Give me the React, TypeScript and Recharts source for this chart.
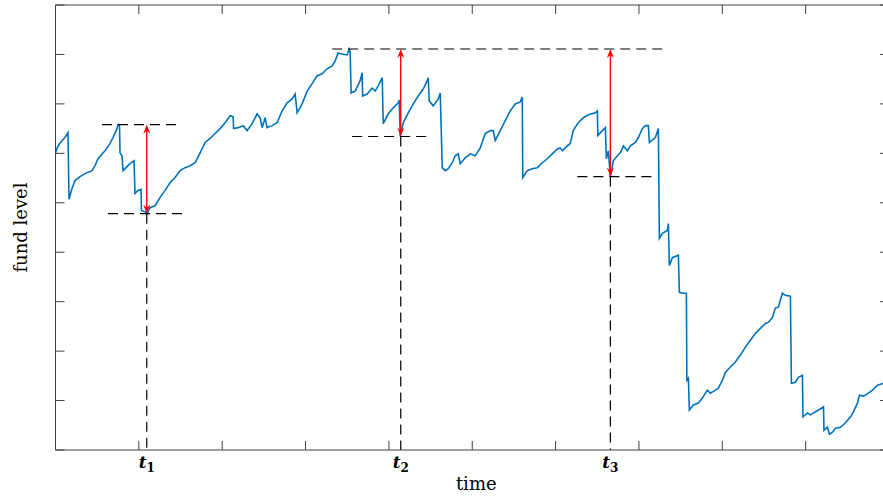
import React from 'react';
import { LineChart, Line, XAxis, YAxis, ReferenceLine } from 'recharts';

// fund level (time 0..10, level 0..9)
const time = [
  0.000, 0.030, 0.078, 0.114, 0.150, 0.162, 0.198, 0.234, 0.294, 0.354,
  0.438, 0.474, 0.510, 0.594, 0.654, 0.690, 0.738, 0.750, 0.768, 0.774,
  0.798, 0.810, 0.846, 0.894, 0.942, 0.954, 0.990, 1.026, 1.032, 1.074,
  1.098, 1.134, 1.194, 1.255, 1.315, 1.375, 1.435, 1.495, 1.555, 1.615,
  1.675, 1.735, 1.795, 1.855, 1.915, 1.975, 2.035, 2.095, 2.131, 2.137,
  2.191, 2.251, 2.299, 2.359, 2.419, 2.455, 2.479, 2.515, 2.539, 2.599,
  2.659, 2.719, 2.779, 2.839, 2.875, 2.899, 2.959, 3.019, 3.079, 3.139,
  3.199, 3.259, 3.319, 3.355, 3.391, 3.439, 3.499, 3.523, 3.535, 3.547,
  3.595, 3.655, 3.679, 3.685, 3.739, 3.800, 3.836, 3.872, 3.920, 3.932,
  3.992, 4.052, 4.112, 4.124, 4.136, 4.172, 4.232, 4.292, 4.352, 4.412,
  4.460, 4.472, 4.484, 4.532, 4.592, 4.616, 4.640, 4.676, 4.712, 4.760,
  4.796, 4.832, 4.856, 4.916, 4.976, 5.036, 5.096, 5.156, 5.216, 5.252,
  5.276, 5.336, 5.396, 5.456, 5.516, 5.576, 5.600, 5.606, 5.660, 5.720,
  5.780, 5.840, 5.900, 5.960, 6.020, 6.056, 6.080, 6.140, 6.176, 6.212,
  6.272, 6.333, 6.393, 6.477, 6.501, 6.507, 6.561, 6.597, 6.609, 6.633,
  6.657, 6.693, 6.741, 6.777, 6.813, 6.861, 6.897, 6.957, 6.993, 7.041,
  7.077, 7.113, 7.125, 7.197, 7.233, 7.245, 7.281, 7.341, 7.353, 7.365,
  7.401, 7.473, 7.485, 7.533, 7.569, 7.575, 7.593, 7.605, 7.653, 7.713,
  7.761, 7.797, 7.821, 7.857, 7.917, 7.953, 8.001, 8.037, 8.097, 8.157,
  8.217, 8.277, 8.337, 8.397, 8.457, 8.517, 8.553, 8.601, 8.637, 8.673,
  8.697, 8.721, 8.757, 8.817, 8.829, 8.877, 8.913, 8.961, 8.968, 9.022,
  9.058, 9.094, 9.154, 9.214, 9.220, 9.262, 9.286, 9.322, 9.358, 9.418,
  9.478, 9.538, 9.574, 9.622, 9.646, 9.694, 9.754, 9.802, 9.862, 9.898,
  9.934, 9.994,
];

const level = [
  6.01, 6.15, 6.26, 6.32, 6.42, 5.07, 5.29, 5.45, 5.53, 5.59,
  5.65, 5.75, 5.89, 6.05, 6.20, 6.32, 6.50, 6.58, 6.58, 6.01,
  5.95, 5.65, 5.71, 5.79, 5.85, 5.19, 5.25, 5.27, 4.84, 4.82,
  4.78, 4.90, 4.94, 5.11, 5.25, 5.41, 5.51, 5.65, 5.71, 5.75,
  5.81, 6.01, 6.22, 6.30, 6.40, 6.50, 6.62, 6.76, 6.74, 6.50,
  6.52, 6.56, 6.46, 6.60, 6.80, 6.72, 6.52, 6.72, 6.52, 6.56,
  6.62, 6.86, 7.02, 7.10, 7.20, 6.82, 7.00, 7.26, 7.41, 7.57,
  7.61, 7.71, 7.77, 7.87, 8.03, 8.01, 7.99, 8.11, 8.05, 7.22,
  7.26, 7.47, 7.63, 7.16, 7.20, 7.32, 7.26, 7.37, 7.53, 6.60,
  6.80, 6.92, 7.02, 7.08, 6.34, 6.62, 6.82, 7.00, 7.16, 7.30,
  7.47, 7.53, 7.06, 6.96, 7.10, 7.22, 5.71, 5.65, 5.69, 5.81,
  5.95, 5.99, 5.79, 5.91, 5.99, 5.95, 6.11, 6.40, 6.46, 6.46,
  6.26, 6.46, 6.66, 6.86, 7.00, 7.04, 7.14, 5.51, 5.65, 5.69,
  5.71, 5.81, 5.89, 5.99, 6.09, 6.11, 6.05, 6.15, 6.20, 6.46,
  6.62, 6.72, 6.78, 6.82, 6.86, 6.36, 6.46, 6.52, 5.89, 6.05,
  5.53, 5.85, 5.95, 6.01, 6.15, 6.05, 6.15, 6.22, 6.32, 6.50,
  6.56, 6.56, 6.22, 6.32, 6.50, 4.28, 4.38, 4.44, 4.58, 3.73,
  3.89, 3.94, 3.19, 3.17, 3.17, 1.41, 1.45, 0.81, 0.91, 0.95,
  1.05, 1.15, 1.21, 1.15, 1.21, 1.25, 1.41, 1.57, 1.68, 1.78,
  1.92, 2.08, 2.22, 2.36, 2.46, 2.56, 2.58, 2.68, 2.87, 2.89,
  3.03, 3.17, 3.13, 3.11, 1.35, 1.37, 1.47, 1.51, 0.67, 0.75,
  0.71, 0.75, 0.81, 0.87, 0.40, 0.46, 0.32, 0.36, 0.44, 0.46,
  0.55, 0.67, 0.77, 0.95, 1.11, 1.09, 1.15, 1.21, 1.31, 1.33,
  1.35, 1.41,
];

const xTicks = [0, 1, 2, 3, 4, 5, 6, 7, 8, 9, 10];
const yTicks = [0, 1, 2, 3, 4, 5, 6, 7, 8, 9];

// drawdowns: time of trough, peak level before it, trough level
const dropTimes = [1.095, 4.142, 6.657];
const dropSubscripts = ['1', '2', '3'];
const peakLevels = [6.58, 8.11, 8.11];
const troughLevels = [4.78, 6.34, 5.53];

// dashed guide lines (start / end times)
const peakLineLevel = [6.58, 8.11];
const peakLineFrom = [0.558, 3.319];
const peakLineTo = [1.507, 7.341];
const troughLineFrom = [0.63, 3.559, 6.261];
const troughLineTo = [1.579, 4.508, 7.197];

const rows = time.map((t, i) => ({ time: t, level: level[i] }));

const AXIS = '#404040';
const SERIF = "'DejaVu Serif', serif";
const DASH = '10 6';

const NoLabel = () => <g />;

const DoubleArrow = (props: any) => {
  const { x1, y1, x2, y2 } = props;
  const head = 9;
  const half = 3.5;
  const notch = 6;
  return (
    <g>
      <line x1={x1} y1={y1 + 3} x2={x2} y2={y2 - 3} stroke="#ff0000" strokeWidth={1.4} />
      <path
        d={`M${x1},${y1} L${x1 - half},${y1 + head} L${x1},${y1 + notch} L${x1 + half},${y1 + head} Z`}
        fill="#ff0000"
      />
      <path
        d={`M${x2},${y2} L${x2 - half},${y2 - head} L${x2},${y2 - notch} L${x2 + half},${y2 - head} Z`}
        fill="#ff0000"
      />
    </g>
  );
};

const DropTick = (props: any) => {
  const { x, y, payload } = props;
  const i = dropTimes.indexOf(payload.value);
  return (
    <text x={x} y={y + 17} textAnchor="middle" fontFamily={SERIF} fontSize={17} fill="#000">
      <tspan fontStyle="italic" fontWeight="bold">t</tspan>
      <tspan fontSize={12} fontWeight="bold" dy={4}>{dropSubscripts[i]}</tspan>
    </text>
  );
};

const timeLabel = ({ viewBox }: any) => (
  <text
    x={viewBox.x + viewBox.width / 2 + 4}
    y={viewBox.y + 40}
    textAnchor="middle"
    fontFamily={SERIF}
    fontSize={18}
    fill="#000"
  >
    time
  </text>
);

const levelLabel = ({ viewBox }: any) => {
  const cx = viewBox.x + viewBox.width - 28.5;
  const cy = viewBox.y + viewBox.height / 2;
  return (
    <text
      x={cx}
      y={cy}
      transform={`rotate(-90 ${cx} ${cy})`}
      textAnchor="middle"
      fontFamily={SERIF}
      fontSize={18}
      fill="#000"
    >
      fund level
    </text>
  );
};

export default function App() {
  return (
    <div
      style={{
        position: 'absolute',
        left: 0,
        top: 0,
        width: 883,
        height: 496,
        overflow: 'hidden',
        background: '#fff',
      }}
    >
      <LineChart
        width={900}
        height={496}
        data={rows}
        margin={{ top: 4, right: 10, bottom: 44, left: 54.5 }}
      >
        <XAxis
          dataKey="time"
          type="number"
          domain={[0, 10]}
          ticks={xTicks}
          interval={0}
          tick={NoLabel}
          tickLine={{ stroke: AXIS }}
          tickSize={-9}
          height={1}
          stroke={AXIS}
          allowDataOverflow
          label={timeLabel}
        />
        <XAxis
          xAxisId="drop"
          dataKey="time"
          type="number"
          domain={[0, 10]}
          ticks={dropTimes}
          interval={0}
          tick={<DropTick />}
          tickLine={false}
          axisLine={false}
          tickSize={0}
          tickMargin={0}
          height={1}
          allowDataOverflow
        />
        <XAxis
          xAxisId="top"
          orientation="top"
          dataKey="time"
          type="number"
          domain={[0, 10]}
          ticks={xTicks}
          interval={0}
          tick={NoLabel}
          tickLine={{ stroke: AXIS }}
          tickSize={-9}
          height={1}
          stroke={AXIS}
          allowDataOverflow
        />
        <YAxis
          type="number"
          domain={[0, 9]}
          ticks={yTicks}
          interval={0}
          tick={NoLabel}
          tickLine={{ stroke: AXIS }}
          tickSize={-9}
          width={1}
          stroke={AXIS}
          allowDataOverflow
          label={levelLabel}
        />
        <YAxis
          yAxisId="right"
          orientation="right"
          type="number"
          domain={[0, 9]}
          ticks={yTicks}
          interval={0}
          tick={NoLabel}
          tickLine={{ stroke: AXIS }}
          tickSize={-9}
          width={1}
          stroke={AXIS}
          allowDataOverflow
        />
        <Line
          dataKey="level"
          type="linear"
          stroke="#0072BD"
          strokeWidth={1.6}
          dot={false}
          activeDot={false}
          isAnimationActive={false}
        />
        {peakLineFrom.map((from, i) => (
          <ReferenceLine
            key={'peak' + i}
            segment={[
              { x: from, y: peakLineLevel[i] },
              { x: peakLineTo[i], y: peakLineLevel[i] },
            ]}
            stroke="#000"
            strokeWidth={1.2}
            strokeDasharray={DASH}
            ifOverflow="visible"
          />
        ))}
        {troughLineFrom.map((from, i) => (
          <ReferenceLine
            key={'trough' + i}
            segment={[
              { x: from, y: troughLevels[i] },
              { x: troughLineTo[i], y: troughLevels[i] },
            ]}
            stroke="#000"
            strokeWidth={1.2}
            strokeDasharray={DASH}
            ifOverflow="visible"
          />
        ))}
        {dropTimes.map((t, i) => (
          <ReferenceLine
            key={'down' + i}
            segment={[
              { x: t, y: troughLevels[i] },
              { x: t, y: 0 },
            ]}
            stroke="#000"
            strokeWidth={1.2}
            strokeDasharray={DASH}
            ifOverflow="visible"
          />
        ))}
        {dropTimes.map((t, i) => (
          <ReferenceLine
            key={'arrow' + i}
            segment={[
              { x: t, y: peakLevels[i] },
              { x: t, y: troughLevels[i] },
            ]}
            ifOverflow="visible"
            shape={DoubleArrow}
          />
        ))}
      </LineChart>
    </div>
  );
}
